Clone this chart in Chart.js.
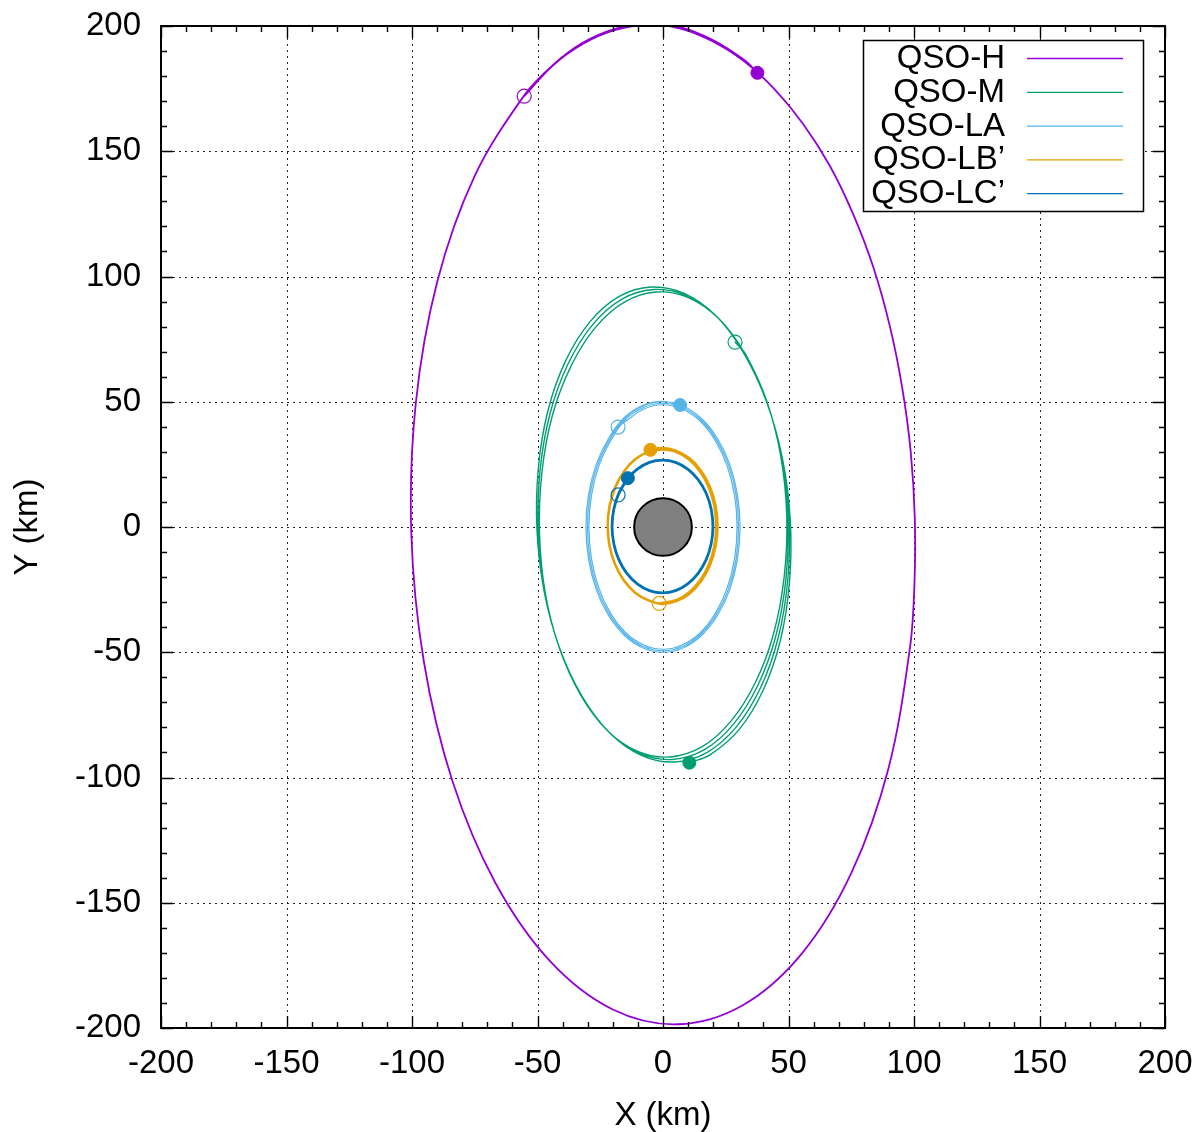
<!DOCTYPE html>
<html><head><meta charset="utf-8">
<script src="https://cdn.jsdelivr.net/npm/chart.js@4.4.1/dist/chart.umd.min.js"></script>
<style>html,body{margin:0;padding:0;background:#fff}#wrap{width:1200px;height:1132px}</style>
</head><body><div id="wrap"><canvas id="c" width="1200" height="1132"></canvas></div>
<script>
// ---------- data (km) ----------
const seriesNames = ['QSO-H', 'QSO-M', 'QSO-LA', 'QSO-LB\u2019', 'QSO-LC\u2019'];
const seriesColors = ['#9400d3', '#009e73', '#56b4e9', '#e69f00', '#0072b2'];
const xTickValues = [-200, -150, -100, -50, 0, 50, 100, 150, 200];
const yTickValues = [-200, -150, -100, -50, 0, 50, 100, 150, 200];
const bodyRadiusKm = 11.5;

const pathH = [[-55.3,172.0],[-43.9,184.2],[-31.8,192.9],[-19.0,198.4],[-6.0,200.5],[7.0,199.0],[19.5,194.0],[32.2,186.0],[44.4,174.8],[55.9,160.8],[66.5,144.1],[75.8,124.8],[83.9,103.4],[90.4,80.1],[95.3,55.6],[98.7,30.0],[100.3,4.0],[100.2,-22.1],[98.45,-47.8],[89.9,-96.1],[75.1,-138.0],[55.3,-170.3],[31.8,-190.9],[6.0,-198.5],[-20.2,-192.5],[-45.0,-173.3],[-66.7,-142.2],[-83.9,-101.4],[-95.3,-53.6],[-100.3,-2.0],[-98.45,49.8],[-89.9,98.1],[-75.1,140.0],[-55.3,172.3],[-43.9,184.4],[-32.0,193.3],[-19.1,198.9],[-6.0,201.0],[7.1,199.5],[19.7,194.5],[32.4,186.4],[37.6,181.3]];

const pathM = [[28.7,73.8],
[32.9,69.0],[41.3,50.4],[46.9,28.4],[49.3,4.4],[48.3,-19.7],[44.1,-42.4],[36.8,-62.1],[27.0,-77.6],[15.45,-87.8],[2.7,-91.8],[-10.05,-89.6],[-22.2,-81.2],[-32.8,-67.1],[-41.25,-48.45],[-46.9,-26.4],[-49.2,-2.5],[-48.25,21.7],[-44.1,44.4],[-36.7,64.1],[-27.0,79.6],[-15.4,89.8],[-2.7,93.8],[10.1,91.6],[22.3,83.1],
[32.5,69.4],[41.2,50.5],[47.1,28.2],[49.7,4.0],[49.0,-20.4],[45.0,-43.3],[37.8,-63.2],[28.1,-78.7],[16.5,-88.9],[3.7,-92.8],[-9.2,-90.4],[-21.6,-81.8],[-32.5,-67.4],[-41.2,-48.5],[-47.1,-26.2],[-49.7,-2.0],[-49.0,22.4],[-45.0,45.3],[-37.8,65.15],[-28.1,80.7],[-16.5,90.9],[-3.7,94.8],[9.25,92.4],[21.6,83.8],
[32.1,69.8],[41.1,50.6],[47.3,28.0],[50.2,3.5],[49.7,-21.15],[45.9,-44.2],[38.85,-64.2],[29.2,-79.8],[17.6,-89.95],[4.7,-93.8],[-8.4,-91.25],[-21.0,-82.4],[-32.1,-67.8],[-41.1,-48.6],[-47.3,-25.95],[-50.2,-1.5],[-49.7,23.15],[-45.9,46.2],[-38.85,66.2],[-29.2,81.8],[-17.6,91.95],[-4.7,95.8],[8.4,93.25],[21.0,84.4],
[31.7,70.2],[41.0,50.7],[47.5,27.8],[50.7,3.0],[50.4,-21.9],[46.8,-45.1],[39.9,-65.2],[30.3,-80.9],[18.7,-91.0],[10.5,-94.1]];

const pathLA = [[-17.9,39.9],
[-14.75,42.3],[-7.6,47.1],[0,48.8],[7.6,47.1],[14.75,42.3],[20.85,34.5],[25.55,24.4],[28.5,12.6],[29.5,0],[28.5,-12.6],[25.55,-24.4],[20.85,-34.5],[14.75,-42.3],[7.6,-47.1],[0,-48.8],[-7.6,-47.1],[-14.75,-42.3],[-20.85,-34.5],[-25.55,-24.4],[-28.5,-12.6],[-29.5,0],[-28.5,12.6],[-25.55,24.4],[-20.85,34.5],
[-15.05,42.8],[-7.8,47.7],[0,49.4],[7.8,47.7],[15.05,42.8],[21.3,34.9],[26.1,24.7],[29.1,12.8],[30.1,0],[29.1,-12.8],[26.1,-24.7],[21.3,-34.9],[15.05,-42.8],[7.8,-47.7],[0,-49.4],[-7.8,-47.7],[-15.05,-42.8],[-21.3,-34.9],[-26.1,-24.7],[-29.1,-12.8],[-30.1,0],[-29.1,12.8],[-26.1,24.7],[-21.3,34.9],
[-15.35,43.3],[-7.95,48.3],[0,50.0],[7.95,48.3],[15.35,43.3],[21.7,35.35],[26.6,25.0],[29.65,12.95],[30.7,0],[29.65,-12.95],[26.6,-25.0],[21.7,-35.35],[15.35,-43.3],[7.95,-48.3],[0,-50.0],[-7.95,-48.3],[-15.35,-43.3],[-21.7,-35.35],[-26.6,-25.0],[-29.65,-12.95],[-30.7,0],[-29.65,12.95],[-26.6,25.0],[-21.7,35.35],
[-15.5,43.6],[-8.0,48.6],[-0.3,50.2],[6.8,48.7]];

const pathLB = [[-1.5,-30.5],
[5.2,-29.2],[10.4,-26.1],[14.9,-21.2],[18.3,-14.9],[20.5,-7.5],[21.2,0.4],[20.5,8.3],[18.3,15.7],[14.9,22.0],[10.4,26.9],[5.2,30.0],[-0.4,31.0],[-6.0,30.0],[-11.2,26.9],[-15.7,22.0],[-19.1,15.7],[-21.3,8.3],[-22.0,0.4],[-21.3,-7.5],[-19.1,-14.9],[-15.7,-21.2],[-11.2,-26.1],[-6.0,-29.2],
[-0.4,-30.7],[5.3,-29.6],[10.65,-26.5],[15.2,-21.6],[18.7,-15.15],[20.95,-7.65],[21.7,0.4],[20.95,8.45],[18.7,15.95],[15.2,22.4],[10.65,27.3],[5.3,30.4],[-0.4,31.5],[-5.0,30.8]];

const pathLC = [[-17.9,12.8],[-14.4,18.9],[-10.25,23.1],[-5.4,25.8],[-0.2,26.7],[5.0,25.8],[9.85,23.1],[14.0,18.9],[17.2,13.45],[19.2,7.1],[19.9,0.2],[19.2,-6.7],[17.2,-13.05],[14.0,-18.5],[9.85,-22.7],[5.0,-25.4],[-0.2,-26.3],[-5.4,-25.4],[-10.25,-22.7],[-14.4,-18.5],[-17.6,-13.05],[-19.6,-6.7],[-20.3,0.2],[-19.6,7.1],[-17.6,13.45],[-14.0,19.5]];

// ---------- styling ----------
const FONT = "'Liberation Sans', Arial, Helvetica, sans-serif";
const paths = [pathH, pathM, pathLA, pathLB, pathLC];
const lineWidths = [1.8, 1.4, 1.2, 2.6, 2.8];
const toPts = p => p.map(([x, y]) => ({x, y}));

const datasets = [];
datasets.push({
  label: 'start', data: paths.map(p => ({x: p[0][0], y: p[0][1]})),
  pointRadius: 7, pointBorderWidth: 1.2, pointBackgroundColor: 'rgba(0,0,0,0)',
  pointBorderColor: seriesColors, showLine: false, order: 0
});
datasets.push({
  label: 'end', data: paths.map(p => ({x: p[p.length-1][0], y: p[p.length-1][1]})),
  pointRadius: 6.5, pointBorderWidth: 1, pointBackgroundColor: seriesColors,
  pointBorderColor: seriesColors, showLine: false, order: 0
});
datasets.push({
  label: 'body', data: [{x: 0, y: 0}], showLine: false, order: 1,
  pointRadius: (c) => { const s = c.chart.scales.x; return Math.abs(s.getPixelForValue(bodyRadiusKm) - s.getPixelForValue(0)); },
  pointBackgroundColor: '#808080', pointBorderColor: '#000', pointBorderWidth: 2
});
paths.forEach((p, i) => datasets.push({
  label: seriesNames[i], data: toPts(p), showLine: true, borderColor: seriesColors[i],
  borderWidth: lineWidths[i], pointRadius: 0, tension: 0.34, fill: false, order: 6 - i,
  borderJoinStyle: 'round', borderCapStyle: 'round', capBezierPoints: false
}));

const framePlugin = {
  id: 'frame',
  beforeDatasetsDraw(chart) {
    const {ctx, chartArea: a, scales: {x, y}} = chart;
    ctx.save();
    ctx.strokeStyle = 'rgba(0,0,0,0.85)'; ctx.lineWidth = 1; ctx.setLineDash([2, 4]);
    xTickValues.slice(1, -1).forEach(v => {
      const px = Math.round(x.getPixelForValue(v)) + 0.5;
      ctx.beginPath(); ctx.moveTo(px, a.top); ctx.lineTo(px, a.bottom); ctx.stroke();
    });
    yTickValues.slice(1, -1).forEach(v => {
      const py = Math.round(y.getPixelForValue(v)) + 0.5;
      ctx.beginPath(); ctx.moveTo(a.left, py); ctx.lineTo(a.right, py); ctx.stroke();
    });
    ctx.restore();
  },
  afterDatasetsDraw(chart) {
    const {ctx, chartArea: a, scales: {x, y}} = chart;
    ctx.save();
    ctx.strokeStyle = '#000'; ctx.lineWidth = 1.4; ctx.setLineDash([]);
    const minorStep = 10, majorStep = 50;
    for (let v = x.min; v <= x.max + 1e-9; v += minorStep) {
      const L = (Math.abs(v % majorStep) < 1e-9) ? 12 : 6;
      const px = Math.round(x.getPixelForValue(v)) + 0.5;
      ctx.beginPath(); ctx.moveTo(px, a.bottom); ctx.lineTo(px, a.bottom - L);
      ctx.moveTo(px, a.top); ctx.lineTo(px, a.top + L); ctx.stroke();
    }
    for (let v = y.min; v <= y.max + 1e-9; v += minorStep) {
      const L = (Math.abs(v % majorStep) < 1e-9) ? 12 : 6;
      const py = Math.round(y.getPixelForValue(v)) + 0.5;
      ctx.beginPath(); ctx.moveTo(a.left, py); ctx.lineTo(a.left + L, py);
      ctx.moveTo(a.right, py); ctx.lineTo(a.right - L, py); ctx.stroke();
    }
    ctx.lineWidth = 2;
    ctx.strokeRect(a.left, a.top, a.right - a.left, a.bottom - a.top);

    // legend
    const bw = 280, bh = 171;
    const bx = a.right - 22 - bw, by = a.top + 14;
    ctx.fillStyle = '#fff'; ctx.fillRect(bx, by, bw, bh);
    ctx.lineWidth = 1.5; ctx.strokeRect(bx + 0.5, by + 0.5, bw, bh);
    ctx.font = '33px ' + FONT; ctx.textAlign = 'right'; ctx.textBaseline = 'middle';
    seriesNames.forEach((n, i) => {
      const cy = by + 18 + i * 33.8;
      ctx.fillStyle = '#000'; ctx.fillText(n, bx + 142, cy + 1);
      ctx.strokeStyle = seriesColors[i]; ctx.lineWidth = 1.3;
      ctx.beginPath(); ctx.moveTo(bx + 164, cy + 0.5); ctx.lineTo(bx + 260, cy + 0.5); ctx.stroke();
    });
    ctx.restore();
  }
};

const zeroPad = s => { s.paddingTop = 0; s.paddingBottom = 0; s.paddingLeft = 0; s.paddingRight = 0; };
const tickFont = {family: FONT, size: 33};
new Chart(document.getElementById('c'), {
  type: 'scatter',
  data: {datasets},
  plugins: [framePlugin],
  options: {
    responsive: false, animation: false, devicePixelRatio: 1, events: [],
    layout: {padding: {top: 26, right: 35, left: 0, bottom: 0}},
    elements: {line: {capBezierPoints: false}},
    plugins: {legend: {display: false}, tooltip: {enabled: false}},
    scales: {
      x: {
        type: 'linear', min: -200, max: 200,
        afterBuildTicks: s => { s.ticks = xTickValues.map(v => ({value: v})); },
        ticks: {font: tickFont, color: '#000', padding: 16, maxRotation: 0, autoSkip: false, callback: v => String(v)},
        grid: {display: false, drawTicks: false}, border: {display: false},
        title: {display: true, text: 'X (km)', font: {family: FONT, size: 33, lineHeight: 1}, color: '#000', padding: {top: 0, bottom: 0}},
        afterFit: s => { s.height = 104; zeroPad(s); }
      },
      y: {
        type: 'linear', min: -200, max: 200,
        afterBuildTicks: s => { s.ticks = yTickValues.map(v => ({value: v})); },
        ticks: {font: tickFont, color: '#000', padding: 20, autoSkip: false, callback: v => String(v)},
        grid: {display: false, drawTicks: false}, border: {display: false},
        title: {display: true, text: 'Y (km)', font: tickFont, color: '#000', padding: {top: 8, bottom: 0}},
        afterFit: s => { s.width = 161; zeroPad(s); }
      }
    }
  }
});
</script></body></html>
